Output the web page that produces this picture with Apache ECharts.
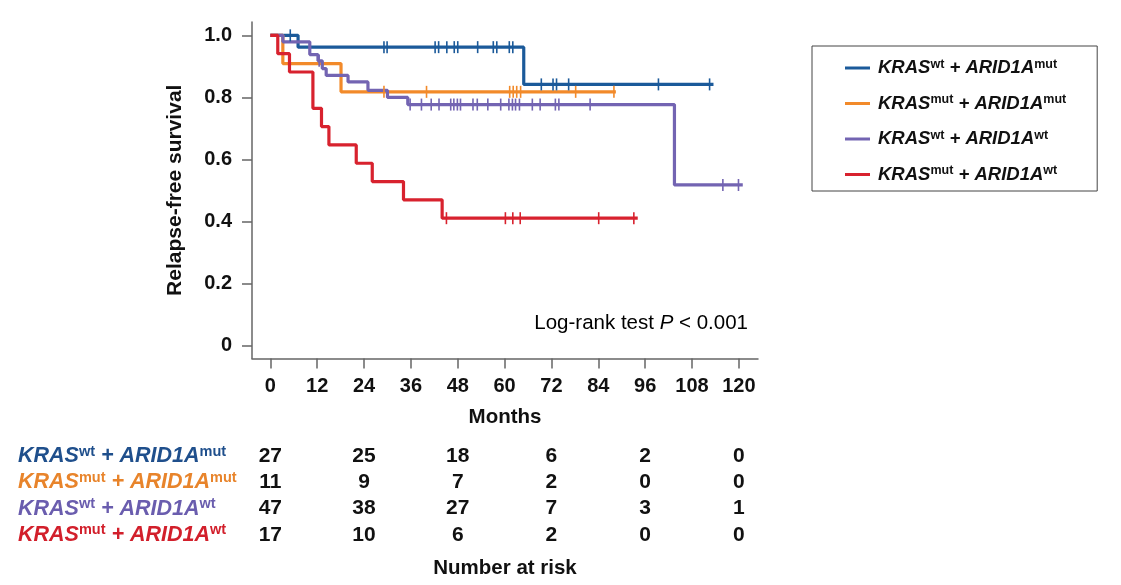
<!DOCTYPE html>
<html>
<head>
<meta charset="utf-8">
<script src="https://cdn.jsdelivr.net/npm/echarts@6/dist/echarts.min.js"></script>
<style>
html,body{margin:0;padding:0;background:#fff;}
#chart{width:1121px;height:585px;}
</style>
</head>
<body>
<div id="chart"></div>
<script>
// ---------- data ----------
const krasStatus = ['wt', 'mut', 'wt', 'mut'];
const aridStatus = ['mut', 'mut', 'wt', 'wt'];
const groupNames = ['KRASwt + ARID1Amut', 'KRASmut + ARID1Amut', 'KRASwt + ARID1Awt', 'KRASmut + ARID1Awt'];

// step curve times (months) and survival
const blueTimes = [0, 7.1, 64.9, 113.5];
const blueSurv  = [1, 0.962, 0.842, 0.842];
const blueCensor = [5.1, 29.1, 29.9, 42.2, 43.1, 45.2, 47.1, 48.0, 53.1, 57.1, 58.0, 61.2, 62.1, 69.4, 72.4, 73.3, 76.4, 99.4, 112.5];

const orangeTimes = [0, 3.2, 18.1, 88.5];
const orangeSurv  = [1, 0.909, 0.818, 0.818];
const orangeCensor = [29.1, 40.0, 61.3, 62.2, 63.1, 64.1, 78.2, 88.0];

const purpleTimes = [0, 3.2, 10.1, 12.2, 13.3, 14.3, 19.9, 25.0, 30.0, 35.2, 103.5, 121.0];
const purpleSurv  = [1, 0.979, 0.938, 0.918, 0.893, 0.871, 0.850, 0.823, 0.800, 0.777, 0.518, 0.518];
const purpleCensor = [12.5, 35.8, 38.7, 41.2, 43.2, 46.2, 47.0, 47.9, 48.7, 51.9, 53.0, 55.7, 59.0, 61.1, 62.0, 62.8, 63.8, 67.1, 69.1, 73.0, 73.9, 81.9, 115.9, 119.9];

const redTimes = [0, 1.9, 4.9, 10.9, 13.1, 15.0, 22.0, 26.1, 34.1, 44.0, 94.1];
const redSurv  = [1, 0.941, 0.882, 0.765, 0.706, 0.647, 0.588, 0.529, 0.470, 0.411, 0.411];
const redCensor = [45.1, 60.2, 62.1, 64.0, 84.1, 93.1];

// number at risk
const riskTimes = [0, 24, 48, 72, 96, 120];
const riskBlue   = [27, 25, 18, 6, 2, 0];
const riskOrange = [11, 9, 7, 2, 0, 0];
const riskPurple = [47, 38, 27, 7, 3, 1];
const riskRed    = [17, 10, 6, 2, 0, 0];

// tick labels
const xTicks = [0, 12, 24, 36, 48, 60, 72, 84, 96, 108, 120];
const yTicks = [0, 0.2, 0.4, 0.6, 0.8, 1.0];

// ---------- styles ----------
const lineColors = ['#1b5a9a', '#f28a2a', '#7364b2', '#d8222e'];
const labelColors = ['#1f4f8c', '#e8842b', '#6a5dae', '#d21f2b'];
const FONT = "'Liberation Sans', Arial, Helvetica, sans-serif";

const curves = [
  [blueTimes, blueSurv, blueCensor],
  [orangeTimes, orangeSurv, orangeCensor],
  [purpleTimes, purpleSurv, purpleCensor],
  [redTimes, redSurv, redCensor]
];
const riskRows = [riskBlue, riskOrange, riskPurple, riskRed];

function survAt(T, S, t) {
  let s = S[0];
  for (let i = 0; i < T.length; i++) if (T[i] <= t) s = S[i];
  return s;
}

const series = [];
curves.forEach((c, k) => {
  series.push({
    name: groupNames[k],
    type: 'line',
    step: 'end',
    xAxisIndex: 0, yAxisIndex: 0,
    showSymbol: false,
    symbol: 'none',
    lineStyle: { width: 3.2, color: lineColors[k] },
    itemStyle: { color: lineColors[k] },
    data: c[0].map((t, i) => [t, c[1][i]]),
    z: 3 + k
  });
  series.push({
    name: groupNames[k] + ' censored',
    type: 'scatter',
    xAxisIndex: 0, yAxisIndex: 0,
    symbol: 'rect',
    symbolSize: [1.6, 12],
    itemStyle: { color: lineColors[k], opacity: 1 },
    data: c[2].map(t => [t, survAt(c[0], c[1], t)]),
    z: 10
  });
});

// risk table
const riskData = [];
riskRows.forEach((row, r) => {
  row.forEach((n, i) => riskData.push([riskTimes[i], r, n]));
});
series.push({
  type: 'scatter',
  xAxisIndex: 1, yAxisIndex: 1,
  symbolSize: 0,
  itemStyle: { color: '#111', opacity: 1 },
  data: riskData,
  label: {
    show: true, position: 'inside',
    formatter: p => String(p.value[2]),
    fontFamily: FONT, fontSize: 21, fontWeight: 'bold', color: '#111',
    textBorderWidth: 0, textBorderColor: 'transparent'
  }
});

// rich styles
const legendRich = {
  m: { fontFamily: FONT, fontSize: 18.5, fontWeight: 'bold', fontStyle: 'italic', color: '#111', lineHeight: 20 },
  s: { fontFamily: FONT, fontSize: 12.5, fontWeight: 'bold', color: '#111', lineHeight: 12, verticalAlign: 'top' }
};
const riskRich = {};
labelColors.forEach((col, k) => {
  riskRich['m' + k] = { fontFamily: FONT, fontSize: 21.5, fontWeight: 'bold', fontStyle: 'italic', color: col, lineHeight: 24 };
  riskRich['s' + k] = { fontFamily: FONT, fontSize: 14.5, fontWeight: 'bold', color: col, lineHeight: 14, verticalAlign: 'top' };
});

const axisLineStyle = { color: '#666', width: 1.5 };

const option = {
  animation: false,
  backgroundColor: '#fff',
  grid: [
    { left: 252, right: 363, top: 22, height: 336.5 },
    { left: 252, right: 363, top: 443, height: 105 }
  ],
  xAxis: [
    {
      type: 'value', gridIndex: 0, min: -4.7, max: 124.9,
      axisLine: { show: true, onZero: false, lineStyle: axisLineStyle },
      axisTick: { show: true, length: 10, customValues: xTicks, lineStyle: axisLineStyle },
      axisLabel: { customValues: xTicks, fontFamily: FONT, fontSize: 20, fontWeight: 'bold', color: '#111', margin: 18 },
      splitLine: { show: false },
      name: 'Months', nameLocation: 'middle', nameGap: 48,
      nameTextStyle: { fontFamily: FONT, fontSize: 20.5, fontWeight: 'bold', color: '#111' }
    },
    {
      type: 'value', gridIndex: 1, min: -4.7, max: 124.9,
      axisLine: { show: false }, axisTick: { show: false }, axisLabel: { show: false },
      splitLine: { show: false },
      name: 'Number at risk', nameLocation: 'middle', nameGap: 10,
      nameTextStyle: { fontFamily: FONT, fontSize: 20.5, fontWeight: 'bold', color: '#111', verticalAlign: 'top' }
    }
  ],
  yAxis: [
    {
      type: 'value', gridIndex: 0, min: -0.041, max: 1.043,
      axisLine: { show: true, onZero: false, lineStyle: axisLineStyle },
      axisTick: { show: true, length: 10, customValues: yTicks, lineStyle: axisLineStyle },
      axisLabel: {
        customValues: yTicks,
        formatter: v => (Math.abs(v) < 1e-9 ? '0' : v.toFixed(1)),
        fontFamily: FONT, fontSize: 20, fontWeight: 'bold', color: '#111', margin: 20
      },
      splitLine: { show: false },
      name: 'Relapse-free survival', nameLocation: 'middle', nameGap: 66,
      nameTextStyle: { fontFamily: FONT, fontSize: 21, fontWeight: 'bold', color: '#111' }
    },
    {
      type: 'category', gridIndex: 1, inverse: true,
      data: [0, 1, 2, 3],
      axisLine: { show: false }, axisTick: { show: false }, splitLine: { show: false },
      axisLabel: {
        align: 'left', margin: 234,
        formatter: (v, i) => `{m${i}|KRAS}{s${i}|${krasStatus[i]}}{m${i}| + ARID1A}{s${i}|${aridStatus[i]}}`,
        rich: riskRich
      }
    }
  ],
  legend: {
    orient: 'vertical',
    left: 812, top: 46,
    data: groupNames,
    icon: 'rect', itemWidth: 25, itemHeight: 3, itemGap: 16,
    borderColor: '#444', borderWidth: 1,
    padding: [12, 31, 7, 33],
    formatter: name => {
      const k = groupNames.indexOf(name);
      return `{m|KRAS}{s|${krasStatus[k]}}{m| + ARID1A}{s|${aridStatus[k]}}`;
    },
    textStyle: { rich: legendRich, padding: [0, 0, 0, 3] }
  },
  graphic: [
    {
      type: 'text', x: 748, y: 323,
      style: {
        text: '{n|Log-rank test }{i|P}{n| < 0.001}',
        align: 'right', verticalAlign: 'middle',
        rich: {
          n: { fontFamily: FONT, fontSize: 20.5, color: '#111' },
          i: { fontFamily: FONT, fontSize: 20.5, fontStyle: 'italic', color: '#111' }
        }
      }
    }
  ],
  series: series
};

const chart = echarts.init(document.getElementById('chart'), null, { renderer: 'canvas' });
chart.setOption(option);
</script>
</body>
</html>
